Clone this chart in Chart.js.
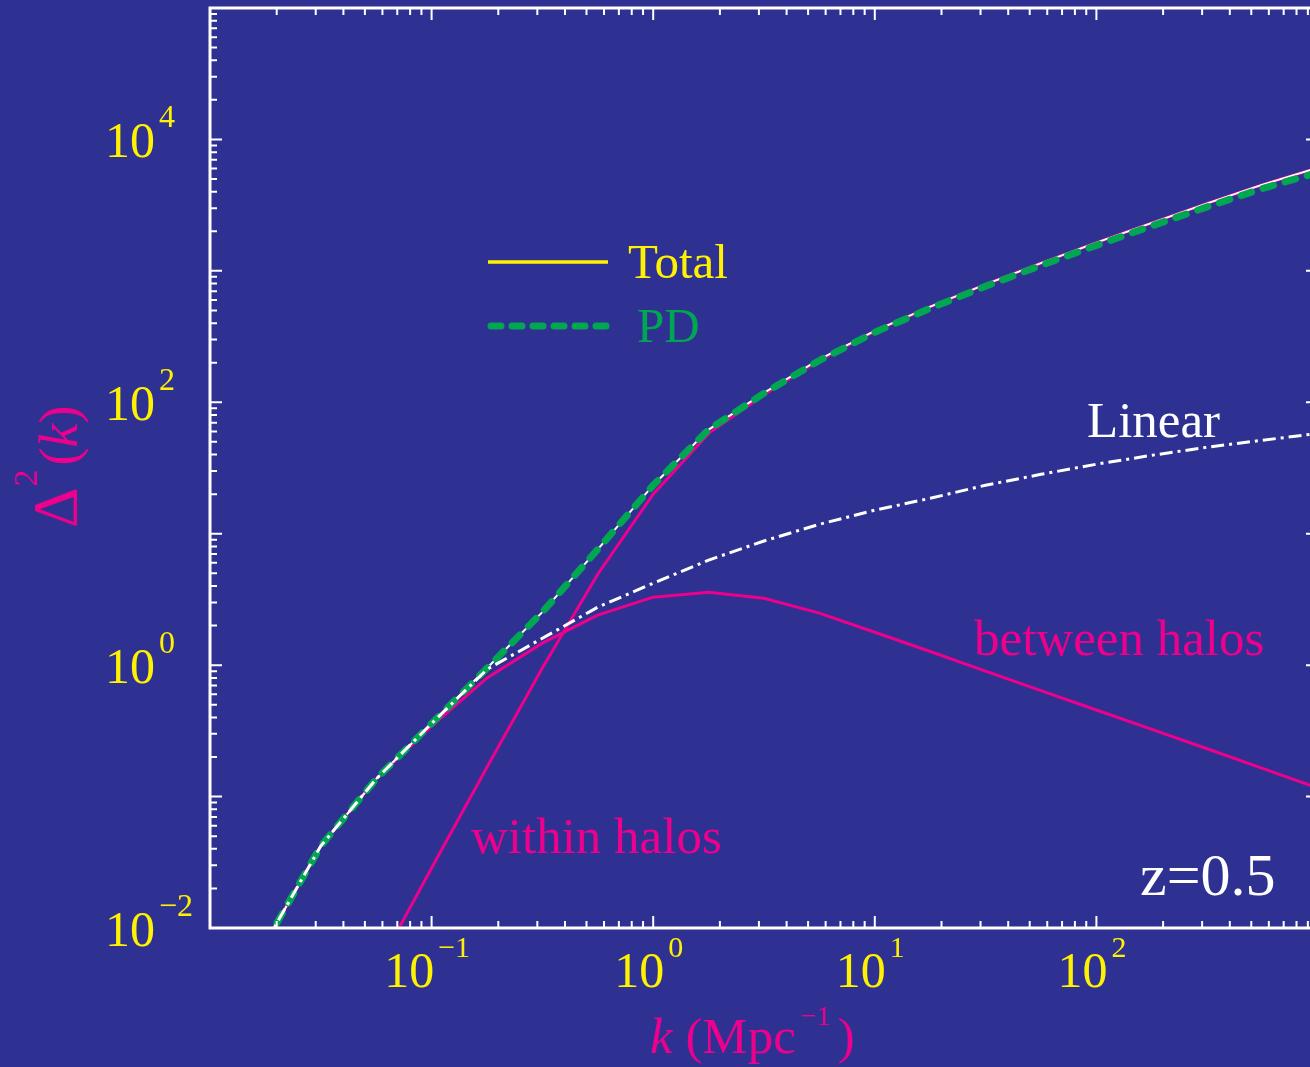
<!DOCTYPE html>
<html>
<head>
<meta charset="utf-8">
<script src="https://cdn.jsdelivr.net/npm/chart.js@4.4.1/dist/chart.umd.min.js"></script>
<style>
  html, body { margin: 0; padding: 0; background: #2E3192; overflow: hidden; }
  #wrap { width: 1330px; height: 1067px; }
</style>
</head>
<body>
<div id="wrap"><canvas id="spectrum" width="1330" height="1067"></canvas></div>
<script>
// wavenumber samples (Mpc^-1), quarter-decade steps
const kValues = [0.0178, 0.0316, 0.0562, 0.1, 0.178, 0.316, 0.562, 1, 1.78, 3.16,
                 5.62, 10, 17.8, 31.6, 56.2, 100, 178, 316, 562, 1000];

const totalPower   = [0.0077, 0.042, 0.136, 0.36, 0.95, 2.53, 7.6, 23.4, 62, 118,
                      212, 350, 535, 790, 1145, 1640, 2320, 3260, 4530, 6100];
const pdPower      = [0.0077, 0.042, 0.136, 0.36, 0.95, 2.53, 7.6, 23.4, 62, 117,
                      208, 341, 519, 763, 1100, 1563, 2198, 3067, 4236, 5610];
const linearPower  = [0.0077, 0.042, 0.136, 0.36, 0.93, 1.60, 2.76, 4.2, 6.3, 8.8,
                      11.8, 15.1, 18.6, 23.4, 28.3, 33.8, 39.5, 45.5, 51.4, 58];
const betweenPower = [0.0077, 0.042, 0.136, 0.344, 0.80, 1.47, 2.40, 3.29, 3.59, 3.23,
                      2.49, 1.78, 1.27, 0.90, 0.64, 0.456, 0.325, 0.231, 0.164, 0.116];
const withinPower  = [null, null, 0.0048, 0.0286, 0.168, 0.95, 4.92, 20, 58, 114,
                      209, 348, 533, 789, 1144, 1640, 2320, 3260, 4530, 6100];

// decade exponents that carry a label
const xTickExps = [-1, 0, 1, 2];
const yTickExps = [-2, 0, 2, 4];

const BG = '#2E3192';
const YELLOW = '#FFF200';
const MAGENTA = '#EC008C';
const GREEN = '#00A651';
const WHITE = '#FFFFFF';
const SERIF = '"Liberation Serif", "Times New Roman", serif';

function pts(arr) {
    return kValues.map((k, i) => ({ x: k, y: arr[i] }));
}

function expText(e) {
    return e < 0 ? '\u2212' + (-e) : String(e);
}

// "10" with a raised exponent
function drawPower(ctx, e, x, baseline, center, expSize) {
    ctx.font = '50px ' + SERIF;
    const wb = ctx.measureText('10').width;
    ctx.font = expSize + 'px ' + SERIF;
    const et = expText(e);
    const we = ctx.measureText(et).width;
    let left = center ? x - (wb + 3 + we) / 2 : x;
    ctx.font = '50px ' + SERIF;
    ctx.fillText('10', left, baseline);
    ctx.font = expSize + 'px ' + SERIF;
    ctx.fillText(et, left + wb + 4, baseline - 30);
}

const framePlugin = {
    id: 'frame',
    beforeDraw(chart) {
        const ctx = chart.ctx;
        ctx.save();
        ctx.fillStyle = BG;
        ctx.fillRect(0, 0, chart.width, chart.height);
        ctx.restore();
    },
    afterDraw(chart) {
        const ctx = chart.ctx;
        const { left, right, top, bottom } = chart.chartArea;
        const xs = chart.scales.x, ys = chart.scales.y;
        ctx.save();

        // axis frame
        ctx.strokeStyle = WHITE;
        ctx.lineWidth = 3;
        ctx.beginPath();
        ctx.moveTo(left, top); ctx.lineTo(right, top);
        ctx.moveTo(left, bottom); ctx.lineTo(right, bottom);
        ctx.moveTo(left, top - 1.5); ctx.lineTo(left, bottom + 1.5);
        ctx.moveTo(right, top - 1.5); ctx.lineTo(right, bottom + 1.5);
        ctx.stroke();

        // ticks pointing inward
        ctx.lineWidth = 2;
        ctx.beginPath();
        for (let d = -2; d <= 2; d++) {
            for (let m = 1; m <= 9; m++) {
                const px = xs.getPixelForValue(m * Math.pow(10, d));
                if (px <= left + 1 || px >= right - 1) continue;
                const len = m === 1 ? 12 : 7;
                ctx.moveTo(px, bottom); ctx.lineTo(px, bottom - len);
                ctx.moveTo(px, top); ctx.lineTo(px, top + len);
            }
        }
        for (let d = -2; d <= 4; d++) {
            for (let m = 1; m <= 9; m++) {
                const py = ys.getPixelForValue(m * Math.pow(10, d));
                if (py >= bottom - 1 || py <= top + 1) continue;
                const len = m === 1 ? 12 : 7;
                ctx.moveTo(left, py); ctx.lineTo(left + len, py);
                if (m === 1) { ctx.moveTo(right, py); ctx.lineTo(right - 12, py); }
            }
        }
        ctx.stroke();

        // tick labels
        ctx.fillStyle = YELLOW;
        ctx.textAlign = 'left';
        ctx.textBaseline = 'alphabetic';
        xTickExps.forEach(e => {
            drawPower(ctx, e, xs.getPixelForValue(Math.pow(10, e)) - 5, 987, true, 30);
        });
        yTickExps.forEach(e => {
            drawPower(ctx, e, 105, ys.getPixelForValue(Math.pow(10, e)) + 18, false, 32);
        });

        // x title: k (Mpc^-1)
        ctx.fillStyle = MAGENTA;
        let x = 650;
        ctx.font = 'italic 51px ' + SERIF;
        ctx.fillText('k', x, 1053);
        x += ctx.measureText('k').width;
        ctx.font = '51px ' + SERIF;
        ctx.fillText(' (Mpc', x, 1053);
        x += ctx.measureText(' (Mpc').width + 5;
        ctx.font = '28px ' + SERIF;
        ctx.fillText('\u22121', x, 1025);
        x += ctx.measureText('\u22121').width + 7;
        ctx.font = '51px ' + SERIF;
        ctx.fillText(')', x, 1053);

        // y title: Δ^2(k), rotated
        ctx.save();
        ctx.translate(77, 528);
        ctx.rotate(-Math.PI / 2);
        let y = 0;
        ctx.font = '63px ' + SERIF;
        ctx.fillText('\u0394', y, 0);
        y += ctx.measureText('\u0394').width + 1;
        ctx.font = '34px ' + SERIF;
        ctx.fillText('2', y, -40);
        y += ctx.measureText('2').width + 4;
        ctx.font = '54px ' + SERIF;
        ctx.fillText('(', y, 0);
        y += ctx.measureText('(').width;
        ctx.font = 'italic 54px ' + SERIF;
        ctx.fillText('k', y, 0);
        y += ctx.measureText('k').width;
        ctx.font = '54px ' + SERIF;
        ctx.fillText(')', y, 0);
        ctx.restore();

        // legend
        ctx.strokeStyle = YELLOW;
        ctx.lineWidth = 3.5;
        ctx.beginPath();
        ctx.moveTo(488, 262); ctx.lineTo(608, 262);
        ctx.stroke();
        ctx.strokeStyle = GREEN;
        ctx.lineWidth = 7;
        ctx.lineCap = 'round';
        ctx.setLineDash([10, 11]);
        ctx.beginPath();
        ctx.moveTo(491, 326); ctx.lineTo(610, 326);
        ctx.stroke();
        ctx.setLineDash([]);
        ctx.lineCap = 'butt';
        ctx.font = '49px ' + SERIF;
        ctx.fillStyle = YELLOW;
        ctx.fillText('Total', 628, 278);
        ctx.fillStyle = GREEN;
        ctx.fillText('PD', 637, 342);

        // curve annotations
        ctx.font = '51px ' + SERIF;
        ctx.fillStyle = WHITE;
        ctx.fillText('Linear', 1087, 437);
        ctx.fillStyle = MAGENTA;
        ctx.fillText('between halos', 974, 655);
        ctx.fillText('within halos', 471, 853);
        ctx.fillStyle = WHITE;
        ctx.font = '60px ' + SERIF;
        ctx.fillText('z=0.5', 1140, 895);

        ctx.restore();
    }
};

new Chart(document.getElementById('spectrum'), {
    type: 'line',
    data: {
        datasets: [
            { label: 'Linear', data: pts(linearPower), borderColor: WHITE, borderWidth: 3,
              borderDash: [13, 5, 3, 5], order: 0 },
            { label: 'PD', data: pts(pdPower), borderColor: GREEN, borderWidth: 7,
              borderDash: [11, 12], borderCapStyle: 'round', order: 1 },
            { label: 'Total', data: pts(totalPower), borderColor: WHITE, borderWidth: 2, order: 2 },
            { label: 'between halos', data: pts(betweenPower), borderColor: MAGENTA, borderWidth: 3, order: 3 },
            { label: 'within halos', data: pts(withinPower), borderColor: MAGENTA, borderWidth: 3, order: 4 }
        ]
    },
    options: {
        responsive: false,
        animation: false,
        devicePixelRatio: 1,
        layout: { padding: { top: 8, right: 12, left: 0, bottom: 0 } },
        elements: { point: { radius: 0 }, line: { tension: 0, fill: false } },
        plugins: { legend: { display: false }, tooltip: { enabled: false } },
        scales: {
            x: {
                type: 'logarithmic', min: 0.01, max: 1000,
                grid: { display: false }, border: { display: false }, ticks: { display: false },
                afterFit: s => { s.height = 139; }
            },
            y: {
                type: 'logarithmic', min: 0.01, max: 1e5,
                grid: { display: false }, border: { display: false }, ticks: { display: false },
                afterFit: s => { s.width = 210; }
            }
        }
    },
    plugins: [framePlugin]
});
</script>
</body>
</html>
